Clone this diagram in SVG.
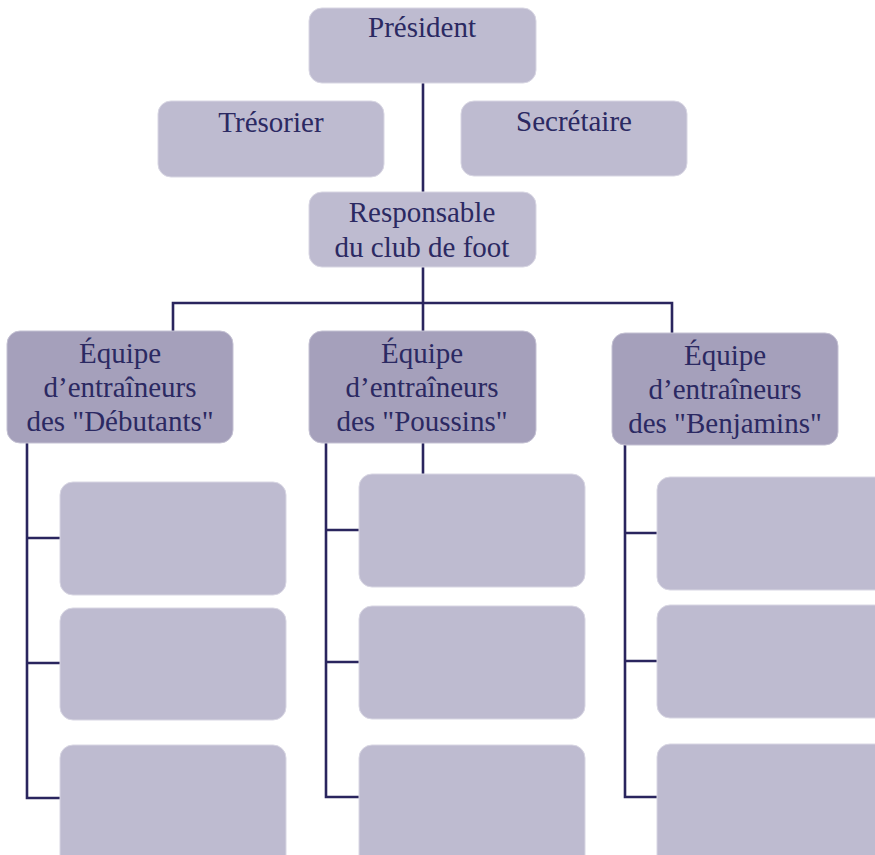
<svg xmlns="http://www.w3.org/2000/svg" width="875" height="855" viewBox="0 0 875 855">
<style>
.box{fill:#bebbd0;stroke:#d8d6e3;stroke-width:1}
.team{fill:#a5a0bb;stroke:#c4c1d3;stroke-width:1}
.t{font-size:29px;fill:#2b2962;text-anchor:middle}
.c{fill:none;stroke:#2a255e;stroke-width:2.6}
</style>
<rect width="875" height="855" fill="#ffffff"/>
<g id="connectors">
<path class="c" d="M423 83V303M173 332V303H672V333M423 303V331"/>
<path class="c" d="M423 443V474"/>
<path class="c" d="M27 443V798H60M27 538H60M27 663H60"/>
<path class="c" d="M326 443V797H359M326 530H359M326 662H359"/>
<path class="c" d="M625 445V797H657M625 533H657M625 661H657"/>
</g>
<g font-family="Liberation Serif, serif">
<g id="president"><rect class="box" x="309" y="8" width="227" height="75" rx="13"/><text class="t" x="422" y="37">Président</text></g>
<g id="tresorier"><rect class="box" x="158" y="101" width="226" height="76" rx="13"/><text class="t" x="271" y="132">Trésorier</text></g>
<g id="secretaire"><rect class="box" x="461" y="101" width="226" height="75" rx="13"/><text class="t" x="574" y="131">Secrétaire</text></g>
<g id="responsable"><rect class="box" x="309" y="192" width="227" height="75" rx="13"/><text class="t" x="422" y="222">Responsable</text><text class="t" x="422" y="257">du club de foot</text></g>
<g id="debutants"><rect class="team" x="7" y="331" width="226" height="112" rx="13"/><text class="t" x="120" y="363">Équipe</text><text class="t" x="120" y="397">d’entraîneurs</text><text class="t" x="120" y="431">des "Débutants"</text></g>
<g id="poussins"><rect class="team" x="309" y="331" width="227" height="112" rx="13"/><text class="t" x="422" y="363">Équipe</text><text class="t" x="422" y="397">d’entraîneurs</text><text class="t" x="422" y="431">des "Poussins"</text></g>
<g id="benjamins"><rect class="team" x="612" y="333" width="226" height="112" rx="13"/><text class="t" x="725" y="365">Équipe</text><text class="t" x="725" y="399">d’entraîneurs</text><text class="t" x="725" y="433">des "Benjamins"</text></g>
</g>
<g id="d1"><rect class="box" x="60" y="482" width="226" height="113" rx="13"/></g>
<g id="d2"><rect class="box" x="60" y="608" width="226" height="112" rx="13"/></g>
<g id="d3"><rect class="box" x="60" y="745" width="226" height="125" rx="13"/></g>
<g id="p1"><rect class="box" x="359" y="474" width="226" height="113" rx="13"/></g>
<g id="p2"><rect class="box" x="359" y="606" width="226" height="113" rx="13"/></g>
<g id="p3"><rect class="box" x="359" y="745" width="226" height="125" rx="13"/></g>
<g id="b1"><rect class="box" x="657" y="477" width="240" height="113" rx="13"/></g>
<g id="b2"><rect class="box" x="657" y="605" width="240" height="113" rx="13"/></g>
<g id="b3"><rect class="box" x="657" y="744" width="240" height="126" rx="13"/></g>
</svg>
